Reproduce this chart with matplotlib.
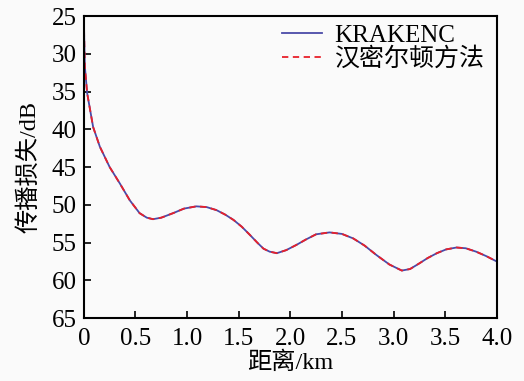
import matplotlib
matplotlib.use("Agg")
import matplotlib.pyplot as plt

range_km = [0.0, 0.003, 0.01, 0.032, 0.09, 0.155, 0.25, 0.35, 0.445, 0.54, 0.61, 0.67,
            0.75, 0.865, 0.97, 1.09, 1.19, 1.285, 1.37, 1.45, 1.53, 1.61, 1.68, 1.74, 1.80, 1.87,
            1.96, 2.06, 2.15, 2.25, 2.38, 2.50, 2.61, 2.72, 2.835, 2.96, 3.08, 3.16, 3.25,
            3.33, 3.42, 3.51, 3.61, 3.70, 3.80, 3.90, 4.0]
tl_krakenc = [24.0, 27.5, 31.7, 35.2, 39.7, 42.3, 45.0, 47.2, 49.4, 51.1, 51.7, 51.9,
              51.7, 51.1, 50.5, 50.2, 50.3, 50.7, 51.3, 52.0, 52.9, 54.0, 55.0, 55.8, 56.2, 56.4,
              56.0, 55.3, 54.6, 53.9, 53.65, 53.85, 54.45, 55.4, 56.65, 57.9, 58.7, 58.5, 57.75,
              57.05, 56.4, 55.9, 55.65, 55.75, 56.2, 56.8, 57.5]
tl_hamilton = list(tl_krakenc)

x_ticks = [0, 0.5, 1.0, 1.5, 2.0, 2.5, 3.0, 3.5, 4.0]
x_tick_labels = ["0", "0.5", "1.0", "1.5", "2.0", "2.5", "3.0", "3.5", "4.0"]
y_ticks = [25, 30, 35, 40, 45, 50, 55, 60, 65]

fam = ["Liberation Serif", "Noto Sans CJK SC"]
plt.rcParams["font.family"] = fam

fig = plt.figure(figsize=(5.24, 3.81), dpi=100, facecolor="#fafafa")
ax = fig.add_axes([0.160, 0.165, 0.788, 0.793])
ax.set_facecolor("#fafafa")

ax.plot(range_km, tl_krakenc, color="#4a4aa8", lw=1.3, label="KRAKENC")
ax.plot(range_km, tl_hamilton, color="#e8202a", lw=1.3, ls=(0, (3.5, 2.5)), label="汉密尔顿方法")

ax.set_xlim(0, 4.0)
ax.set_ylim(65, 25)
ax.set_xticks(x_ticks)
ax.set_xticklabels(x_tick_labels)
ax.set_yticks(y_ticks)
ax.tick_params(direction="in", length=5, width=1.2, labelsize=18, pad=5)
ax.tick_params(axis="x", pad=7)
for s in ax.spines.values():
    s.set_linewidth(1.5)

ax.set_xlabel("距离/km", fontsize=17.5, labelpad=1)
ax.set_ylabel("传播损失/dB", fontsize=17.5, labelpad=8)

leg = ax.legend(loc="upper right", frameon=False, fontsize=18, handlelength=1.6,
                handletextpad=0.5, labelspacing=0.0, borderaxespad=0.0,
                bbox_to_anchor=(0.995, 1.005))

fig.savefig("out.png", dpi=100, facecolor=fig.get_facecolor())
